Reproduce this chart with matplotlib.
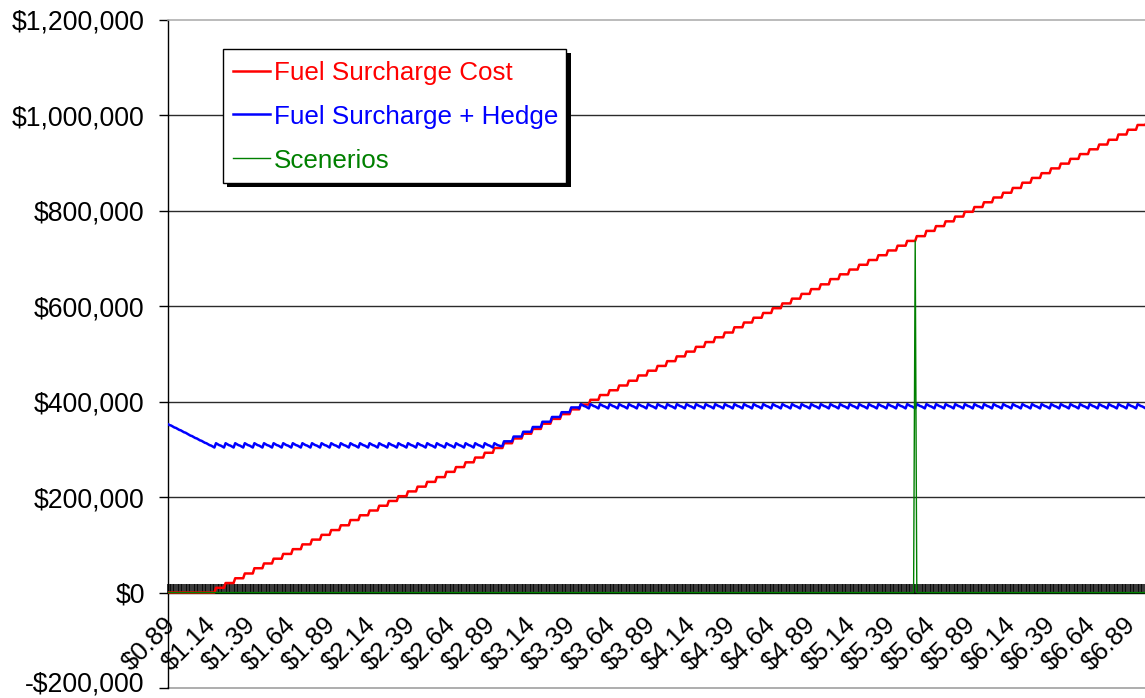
import matplotlib
matplotlib.use("Agg")
import matplotlib.pyplot as plt
from matplotlib.lines import Line2D
from matplotlib.patches import Rectangle
from matplotlib.ticker import FuncFormatter
from matplotlib.transforms import ScaledTranslation

plt.rcParams['font.family'] = ['Liberation Sans', 'DejaVu Sans']

# ---------------- data (values in $ thousands) ----------------
# one category per cent of diesel price, starting at $0.89
first_price_cents = 89

fuel_surcharge_k = [
    0, 0, 0, 0, 0, 0,
    0, 0, 0, 0, 0, 0,
    0, 0, 0, 0, 0, 0,
    0, 0, 0, 0, 0, 0,
    0, 0, 0, 0, 0, 0,
    10, 10, 10, 10, 10, 10,
    20, 20, 20, 20, 20, 20,
    30, 30, 30, 30, 30, 30,
    40, 40, 40, 40, 40, 40,
    51, 51, 51, 51, 51, 51,
    61, 61, 61, 61, 61, 61,
    71, 71, 71, 71, 71, 71,
    81, 81, 81, 81, 81, 81,
    91, 91, 91, 91, 91, 91,
    101, 101, 101, 101, 101, 101,
    111, 111, 111, 111, 111, 111,
    121, 121, 121, 121, 121, 121,
    131, 131, 131, 131, 131, 131,
    141, 141, 141, 141, 141, 141,
    152, 152, 152, 152, 152, 152,
    162, 162, 162, 162, 162, 162,
    172, 172, 172, 172, 172, 172,
    182, 182, 182, 182, 182, 182,
    192, 192, 192, 192, 192, 192,
    202, 202, 202, 202, 202, 202,
    212, 212, 212, 212, 212, 212,
    222, 222, 222, 222, 222, 222,
    232, 232, 232, 232, 232, 232,
    242, 242, 242, 242, 242, 242,
    253, 253, 253, 253, 253, 253,
    263, 263, 263, 263, 263, 263,
    273, 273, 273, 273, 273, 273,
    283, 283, 283, 283, 283, 283,
    293, 293, 293, 293, 293, 293,
    303, 303, 303, 303, 303, 303,
    313, 313, 313, 313, 313, 313,
    323, 323, 323, 323, 323, 323,
    333, 333, 333, 333, 333, 333,
    343, 343, 343, 343, 343, 343,
    354, 354, 354, 354, 354, 354,
    364, 364, 364, 364, 364, 364,
    374, 374, 374, 374, 374, 374,
    384, 384, 384, 384, 384, 384,
    394, 394, 394, 394, 394, 394,
    404, 404, 404, 404, 404, 404,
    414, 414, 414, 414, 414, 414,
    424, 424, 424, 424, 424, 424,
    434, 434, 434, 434, 434, 434,
    444, 444, 444, 444, 444, 444,
    455, 455, 455, 455, 455, 455,
    465, 465, 465, 465, 465, 465,
    475, 475, 475, 475, 475, 475,
    485, 485, 485, 485, 485, 485,
    495, 495, 495, 495, 495, 495,
    505, 505, 505, 505, 505, 505,
    515, 515, 515, 515, 515, 515,
    525, 525, 525, 525, 525, 525,
    535, 535, 535, 535, 535, 535,
    545, 545, 545, 545, 545, 545,
    556, 556, 556, 556, 556, 556,
    566, 566, 566, 566, 566, 566,
    576, 576, 576, 576, 576, 576,
    586, 586, 586, 586, 586, 586,
    596, 596, 596, 596, 596, 596,
    606, 606, 606, 606, 606, 606,
    616, 616, 616, 616, 616, 616,
    626, 626, 626, 626, 626, 626,
    636, 636, 636, 636, 636, 636,
    646, 646, 646, 646, 646, 646,
    657, 657, 657, 657, 657, 657,
    667, 667, 667, 667, 667, 667,
    677, 677, 677, 677, 677, 677,
    687, 687, 687, 687, 687, 687,
    697, 697, 697, 697, 697, 697,
    707, 707, 707, 707, 707, 707,
    717, 717, 717, 717, 717, 717,
    727, 727, 727, 727, 727, 727,
    737, 737, 737, 737, 737, 737,
    747, 747, 747, 747, 747, 747,
    758, 758, 758, 758, 758, 758,
    768, 768, 768, 768, 768, 768,
    778, 778, 778, 778, 778, 778,
    788, 788, 788, 788, 788, 788,
    798, 798, 798, 798, 798, 798,
    808, 808, 808, 808, 808, 808,
    818, 818, 818, 818, 818, 818,
    828, 828, 828, 828, 828, 828,
    838, 838, 838, 838, 838, 838,
    848, 848, 848, 848, 848, 848,
    859, 859, 859, 859, 859, 859,
    869, 869, 869, 869, 869, 869,
    879, 879, 879, 879, 879, 879,
    889, 889, 889, 889, 889, 889,
    899, 899, 899, 899, 899, 899,
    909, 909, 909, 909, 909, 909,
    919, 919, 919, 919, 919, 919,
    929, 929, 929, 929, 929, 929,
    939, 939, 939, 939, 939, 939,
    949, 949, 949, 949, 949, 949,
    960, 960, 960, 960, 960, 960,
    970, 970, 970, 970, 970, 970,
    980, 980, 980, 980, 980, 980,
    990, 990, 990, 990,
]

surcharge_plus_hedge_k = [
    353, 351, 350, 348, 346, 345,
    343, 341, 340, 338, 336, 335,
    333, 331, 329, 328, 326, 324,
    323, 321, 319, 318, 316, 314,
    313, 311, 309, 308, 306, 304,
    313, 311, 309, 308, 306, 304,   # 1
    313, 311, 309, 308, 306, 304,   # 2
    313, 311, 309, 308, 306, 304,   # 3
    313, 311, 309, 308, 306, 304,   # 4
    313, 311, 309, 308, 306, 304,   # 5
    313, 311, 309, 308, 306, 304,   # 6
    313, 311, 309, 308, 306, 304,   # 7
    313, 311, 309, 308, 306, 304,   # 8
    313, 311, 309, 308, 306, 304,   # 9
    313, 311, 309, 308, 306, 304,   # 10
    313, 311, 309, 308, 306, 304,   # 11
    313, 311, 309, 308, 306, 304,   # 12
    313, 311, 309, 308, 306, 304,   # 13
    313, 311, 309, 308, 306, 304,   # 14
    313, 311, 309, 308, 306, 304,   # 15
    313, 311, 309, 308, 306, 304,   # 16
    313, 311, 309, 308, 306, 304,   # 17
    313, 311, 309, 308, 306, 304,   # 18
    313, 311, 309, 308, 306, 304,   # 19
    313, 311, 309, 308, 306, 304,   # 20
    313, 311, 309, 308, 306, 304,   # 21
    313, 311, 309, 308, 306, 304,   # 22
    313, 311, 309, 308, 306, 304,   # 23
    313, 311, 309, 308, 306, 304,   # 24
    313, 311, 309, 308, 306, 304,   # 25
    313, 311, 309, 308, 306, 304,   # 26
    313, 311, 309, 308, 306, 304,   # 27
    313, 311, 309, 308, 306, 304,   # 28
    313, 311, 309, 308, 306, 304,   # 29
    313, 311, 309, 308, 307, 307,
    317, 317, 317, 317, 317, 317,
    327, 327, 327, 327, 327, 327,
    337, 337, 337, 337, 337, 337,
    347, 347, 347, 347, 347, 347,
    358, 358, 358, 358, 358, 358,
    368, 368, 368, 368, 368, 368,
    378, 378, 378, 378, 378, 378,
    388, 388, 388, 388, 388, 386,
    395, 393, 391, 390, 388, 386,   # 1
    395, 393, 391, 390, 388, 386,   # 2
    395, 393, 391, 390, 388, 386,   # 3
    395, 393, 391, 390, 388, 386,   # 4
    395, 393, 391, 390, 388, 386,   # 5
    395, 393, 391, 390, 388, 386,   # 6
    395, 393, 391, 390, 388, 386,   # 7
    395, 393, 391, 390, 388, 386,   # 8
    395, 393, 391, 390, 388, 386,   # 9
    395, 393, 391, 390, 388, 386,   # 10
    395, 393, 391, 390, 388, 386,   # 11
    395, 393, 391, 390, 388, 386,   # 12
    395, 393, 391, 390, 388, 386,   # 13
    395, 393, 391, 390, 388, 386,   # 14
    395, 393, 391, 390, 388, 386,   # 15
    395, 393, 391, 390, 388, 386,   # 16
    395, 393, 391, 390, 388, 386,   # 17
    395, 393, 391, 390, 388, 386,   # 18
    395, 393, 391, 390, 388, 386,   # 19
    395, 393, 391, 390, 388, 386,   # 20
    395, 393, 391, 390, 388, 386,   # 21
    395, 393, 391, 390, 388, 386,   # 22
    395, 393, 391, 390, 388, 386,   # 23
    395, 393, 391, 390, 388, 386,   # 24
    395, 393, 391, 390, 388, 386,   # 25
    395, 393, 391, 390, 388, 386,   # 26
    395, 393, 391, 390, 388, 386,   # 27
    395, 393, 391, 390, 388, 386,   # 28
    395, 393, 391, 390, 388, 386,   # 29
    395, 393, 391, 390, 388, 386,   # 30
    395, 393, 391, 390, 388, 386,   # 31
    395, 393, 391, 390, 388, 386,   # 32
    395, 393, 391, 390, 388, 386,   # 33
    395, 393, 391, 390, 388, 386,   # 34
    395, 393, 391, 390, 388, 386,   # 35
    395, 393, 391, 390, 388, 386,   # 36
    395, 393, 391, 390, 388, 386,   # 37
    395, 393, 391, 390, 388, 386,   # 38
    395, 393, 391, 390, 388, 386,   # 39
    395, 393, 391, 390, 388, 386,   # 40
    395, 393, 391, 390, 388, 386,   # 41
    395, 393, 391, 390, 388, 386,   # 42
    395, 393, 391, 390, 388, 386,   # 43
    395, 393, 391, 390, 388, 386,   # 44
    395, 393, 391, 390, 388, 386,   # 45
    395, 393, 391, 390, 388, 386,   # 46
    395, 393, 391, 390, 388, 386,   # 47
    395, 393, 391, 390, 388, 386,   # 48
    395, 393, 391, 390, 388, 386,   # 49
    395, 393, 391, 390, 388, 386,   # 50
    395, 393, 391, 390, 388, 386,   # 51
    395, 393, 391, 390, 388, 386,   # 52
    395, 393, 391, 390, 388, 386,   # 53
    395, 393, 391, 390, 388, 386,   # 54
    395, 393, 391, 390, 388, 386,   # 55
    395, 393, 391, 390, 388, 386,   # 56
    395, 393, 391, 390, 388, 386,   # 57
    395, 393, 391, 390, 388, 386,   # 58
    395, 393, 391, 390, 388, 386,   # 59
    395, 393, 391, 390,
]

scenario_price = "$5.56"
scenario_value_k = 737

series_names = ["Fuel Surcharge Cost", "Fuel Surcharge + Hedge", "Scenerios"]
series_colors = ["#FF0000", "#0000FF", "#008000"]

y_ticks = [-200000, 0, 200000, 400000, 600000, 800000, 1000000, 1200000]
label_every = 25

# ---------------- derived tables ----------------
n_cat = len(fuel_surcharge_k)
categories = [f"${(first_price_cents + i) / 100:.2f}" for i in range(n_cat)]
scenarios_k = [0] * n_cat
scenarios_k[categories.index(scenario_price)] = scenario_value_k

# ---------------- figure ----------------
W, H = 1145, 698
fig = plt.figure(figsize=(W / 100, H / 100), dpi=100)

def fx(px):
    return px / W

def fy(py):
    return 1 - py / H

px_per_cat = 1.6
view_cats = 620
ax_left, ax_top, ax_bottom = 168, 20, 688
ax = fig.add_axes([fx(ax_left), fy(ax_bottom),
                   view_cats * px_per_cat / W, (ax_bottom - ax_top) / H])

ax.set_xlim(0, view_cats)
ax.set_ylim(y_ticks[0], y_ticks[-1])

# gridlines (inner) dark, border lines grey
for v in y_ticks[1:-1]:
    if v != 0:
        ax.axhline(v, color="#2b2b2b", lw=1.0, zorder=1)
ax.axhline(y_ticks[0], color="#a0a0a0", lw=1.2, zorder=1, clip_on=False)
ax.spines['top'].set_color("#a8a8a8")
ax.spines['top'].set_linewidth(1.1)
ax.spines['right'].set_visible(False)
ax.spines['left'].set_color("black")
ax.spines['left'].set_linewidth(1.0)
ax.spines['bottom'].set_position(('data', 0))
ax.spines['bottom'].set_color("black")
ax.spines['bottom'].set_linewidth(1.0)

xs_red = range(len(fuel_surcharge_k))
xs_blue = range(len(surcharge_plus_hedge_k))
xs_green = range(len(scenarios_k))
ax.plot(xs_red, [v * 1000 for v in fuel_surcharge_k], color=series_colors[0],
        lw=1.8, zorder=3)
ax.plot(xs_blue, [v * 1000 for v in surcharge_plus_hedge_k], color=series_colors[1],
        lw=1.8, zorder=4)
ax.plot(xs_green, [v * 1000 for v in scenarios_k], color=series_colors[2],
        lw=1.0, zorder=5)

# y axis
ax.set_yticks(y_ticks)
ax.yaxis.set_major_formatter(FuncFormatter(
    lambda v, p: ("-$" if v < 0 else "$") + f"{abs(v):,.0f}"))
ax.tick_params(axis='y', direction='out', length=6.2, width=1.0, pad=10.5,
               labelsize=19.2, colors='black')
ylabels = ax.get_yticklabels()
for lbl in ylabels:
    lbl.set_fontweight('medium')
# lift the bottom label so it stays inside the picture
ylabels[0].set_transform(ylabels[0].get_transform() +
                         ScaledTranslation(0, 4.5 / 72, fig.dpi_scale_trans))

# x axis
ax.set_xticks(list(range(n_cat)))
ax.set_xticklabels([c if i % label_every == 0 else "" for i, c in enumerate(categories)])
ax.tick_params(axis='x', direction='in', length=6.7, width=1.1, pad=20.5,
               labelsize=18.5, colors='black')
offset = ScaledTranslation(3 / 72, 0, fig.dpi_scale_trans)
for lbl in ax.get_xticklabels():
    lbl.set_rotation(45)
    lbl.set_ha('right')
    lbl.set_va('center')
    lbl.set_rotation_mode('anchor')
    lbl.set_transform(lbl.get_transform() + offset)

# ---------------- legend (drawn like the Excel box) ----------------
bx0, by0, bx1, by1 = 222.7, 48.6, 566.4, 182.5
shadow = 4.5
fig.patches.append(Rectangle((fx(bx0 + shadow), fy(by1 + shadow)),
                             (bx1 - bx0) / W, (by1 - by0) / H,
                             transform=fig.transFigure, facecolor='black',
                             edgecolor='black', lw=0, zorder=10))
fig.patches.append(Rectangle((fx(bx0), fy(by1)), (bx1 - bx0) / W, (by1 - by0) / H,
                             transform=fig.transFigure, facecolor='white',
                             edgecolor='black', lw=1.0, zorder=11))
row_y = [70.8, 114.4, 158.0]
row_lw = [1.8, 1.8, 1.0]
for name, col, yy, lw in zip(series_names, series_colors, row_y, row_lw):
    fig.add_artist(Line2D([fx(233.4), fx(270.0)], [fy(yy), fy(yy)],
                          transform=fig.transFigure, color=col, lw=lw, zorder=12))
    fig.text(fx(273.5), fy(yy + 9.6), name, color=col, fontsize=18.7,
             ha='left', va='baseline', zorder=13)

fig.savefig("out.png", dpi=100)
